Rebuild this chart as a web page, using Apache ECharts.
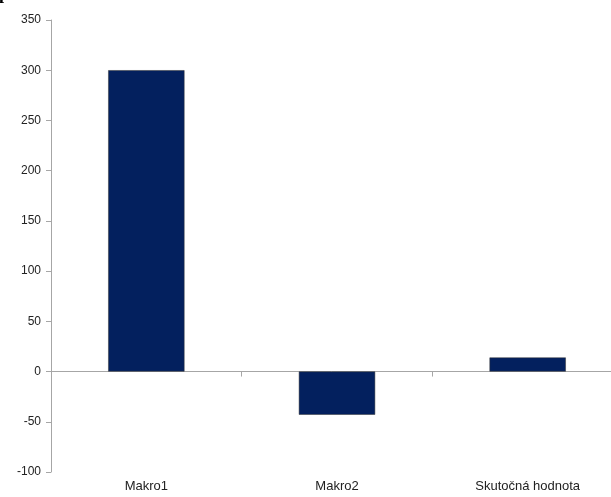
<!DOCTYPE html>
<html><head><meta charset="utf-8">
<script src="https://cdn.jsdelivr.net/npm/echarts@6/dist/echarts.min.js"></script>
<style>html,body{margin:0;padding:0;background:#fff}#c{width:611px;height:497px}</style>
</head><body><div id="c"></div>
<script>
const categories = ['Makro1', 'Makro2', 'Skutočná hodnota'];
const values = [300, -43, 14];
const yMin = -100, yMax = 350, yStep = 50;

const font = '"Liberation Sans", Arial, sans-serif';
const chart = echarts.init(document.getElementById('c'));
chart.setOption({
  animation: false,
  graphic: [{type:'text', left: -1, top: -15, style:{text:'p', font:'bold 18px "Liberation Serif", serif', fill:'#000'}}],
  grid: {left: 51, width: 572, top: 20, bottom: 25, outerBoundsMode: 'none', containLabel: false},
  xAxis: [{
    type: 'category', data: categories,
    axisLine: {onZero: true, lineStyle: {color: '#a6a6a6', width: 1}},
    axisTick: {show: true, length: 5, lineStyle: {color: '#a6a6a6'}},
    axisLabel: {show: false}
  }, {
    type: 'category', data: categories, position: 'bottom',
    axisLine: {show: false, onZero: false}, axisTick: {show: false},
    axisLabel: {color: '#222', fontFamily: font, fontSize: 13, margin: 8}
  }],
  yAxis: {
    type: 'value', min: yMin, max: yMax, interval: yStep,
    axisLine: {show: true, lineStyle: {color: '#a6a6a6'}},
    axisTick: {show: true, length: 5, lineStyle: {color: '#a6a6a6'}},
    splitLine: {show: false},
    axisLabel: {color: '#222', fontFamily: font, fontSize: 12, margin: 10}
  },
  series: [{
    type: 'bar', data: values, barWidth: '40%',
    itemStyle: {color: '#03205e', borderColor: '#333', borderWidth: 0.5}
  }]
});
</script></body></html>
